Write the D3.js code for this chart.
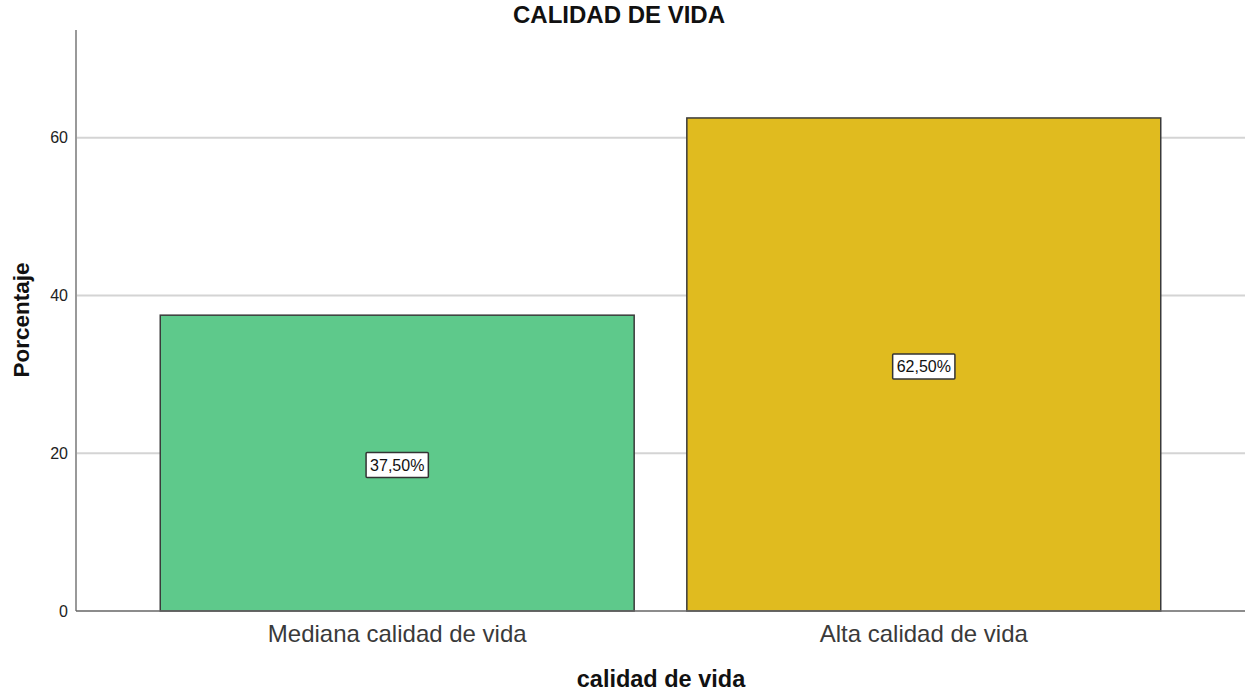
<!DOCTYPE html>
<html>
<head>
<meta charset="utf-8">
<script src="https://cdn.jsdelivr.net/npm/d3@7"></script>
<style>
  body { margin: 0; background: #fff; }
  text { font-family: "Liberation Sans", Arial, sans-serif; }
</style>
</head>
<body>
<svg id="chart" width="1247" height="694"></svg>
<script>
// datos
const categories = ["Mediana calidad de vida", "Alta calidad de vida"];
const percentages = [37.5, 62.5];
const barLabels = ["37,50%", "62,50%"];
const yTicks = [0, 20, 40, 60];
const barColors = ["#5ec98b", "#e0bb1f"];

const svg = d3.select("#chart");
const plotLeft = 76, plotRight = 1245, plotTop = 30, plotBottom = 611;

const x = d3.scaleBand()
  .domain(categories)
  .range([plotLeft, plotRight])
  .paddingInner(0.1)
  .paddingOuter(0.16);

const y = d3.scaleLinear()
  .domain([0, 73.65])
  .range([plotBottom, plotTop]);

// líneas de cuadrícula
svg.append("g")
  .selectAll("line")
  .data(yTicks.filter(d => d > 0))
  .enter()
  .append("line")
  .attr("x1", plotLeft)
  .attr("x2", plotRight)
  .attr("y1", d => y(d))
  .attr("y2", d => y(d))
  .attr("stroke", "#d4d4d4")
  .attr("stroke-width", 2);

// eje Y
const yAxis = svg.append("g")
  .attr("transform", `translate(${plotLeft},0)`)
  .call(d3.axisLeft(y).tickValues(yTicks).tickSize(0).tickPadding(8));
yAxis.select(".domain").remove();
yAxis.selectAll("text")
  .attr("font-size", 16)
  .attr("fill", "#222");

svg.append("line")
  .attr("x1", plotLeft).attr("x2", plotLeft)
  .attr("y1", plotTop).attr("y2", plotBottom)
  .attr("stroke", "#999")
  .attr("stroke-width", 2);

// barras
svg.append("g")
  .selectAll("rect")
  .data(categories)
  .enter()
  .append("rect")
  .attr("x", d => x(d))
  .attr("y", (d, i) => y(percentages[i]))
  .attr("width", x.bandwidth())
  .attr("height", (d, i) => y(0) - y(percentages[i]))
  .attr("fill", (d, i) => barColors[i])
  .attr("stroke", "#3a3a3a")
  .attr("stroke-width", 1.5);

// eje X
svg.append("line")
  .attr("x1", plotLeft).attr("x2", plotRight)
  .attr("y1", plotBottom).attr("y2", plotBottom)
  .attr("stroke", "#666")
  .attr("stroke-width", 1.5);

const xAxis = svg.append("g")
  .attr("transform", `translate(0,${plotBottom})`)
  .call(d3.axisBottom(x).tickSize(0).tickPadding(14));
xAxis.select(".domain").remove();
xAxis.selectAll("text")
  .attr("font-size", 24)
  .attr("fill", "#3a3a3a");

// etiquetas de las barras
const labels = svg.append("g")
  .selectAll("g")
  .data(categories)
  .enter()
  .append("g")
  .attr("transform", (d, i) => {
    const cy = (y(percentages[i]) + y(0)) / 2 + 2;
    return `translate(${x(d) + x.bandwidth() / 2},${cy})`;
  });

labels.append("text")
  .attr("text-anchor", "middle")
  .attr("dominant-baseline", "central")
  .attr("font-size", 16)
  .attr("fill", "#111")
  .text((d, i) => barLabels[i])
  .each(function () {
    const bbox = this.getBBox();
    d3.select(this.parentNode)
      .insert("rect", "text")
      .attr("x", bbox.x - 4)
      .attr("y", bbox.y - 4)
      .attr("width", bbox.width + 8)
      .attr("height", bbox.height + 8)
      .attr("rx", 1)
      .attr("fill", "#fff")
      .attr("stroke", "#333")
      .attr("stroke-width", 1.5);
  });

// títulos
svg.append("text")
  .attr("x", 619)
  .attr("y", 23)
  .attr("text-anchor", "middle")
  .attr("font-size", 24)
  .attr("font-weight", "bold")
  .attr("fill", "#111")
  .text("CALIDAD DE VIDA");

svg.append("text")
  .attr("x", 661)
  .attr("y", 687)
  .attr("text-anchor", "middle")
  .attr("font-size", 23.5)
  .attr("font-weight", "bold")
  .attr("fill", "#111")
  .text("calidad de vida");

svg.append("text")
  .attr("transform", "translate(29,320) rotate(-90)")
  .attr("text-anchor", "middle")
  .attr("font-size", 22.5)
  .attr("font-weight", "bold")
  .attr("fill", "#111")
  .text("Porcentaje");
</script>
</body>
</html>
